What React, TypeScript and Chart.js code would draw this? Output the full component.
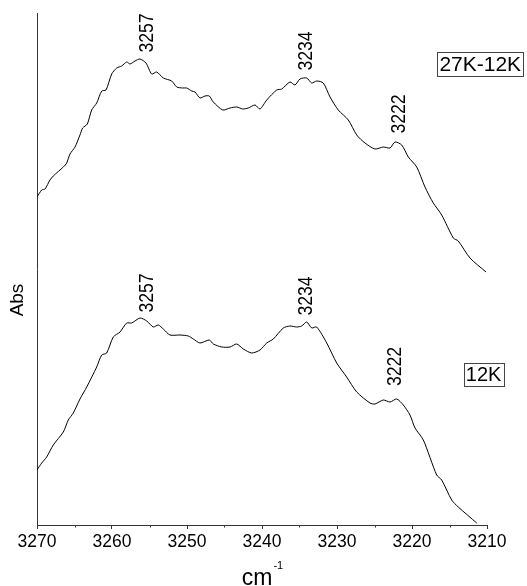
import React, { useEffect, useRef } from "react";
import { Chart, registerables } from "chart.js";

Chart.register(...registerables);

// ---- Data (wavenumber in cm^-1, absorbance in arbitrary units) ----
const topWavenumbers = [
  3270.0, 3269.37, 3268.93, 3268.27, 3267.83, 3266.49, 3266.04, 3265.6, 3264.93, 3264.27,
  3263.91, 3263.29, 3262.71, 3262.04, 3261.37, 3260.8, 3260.04, 3259.37, 3258.71, 3258.04,
  3257.6, 3256.93, 3256.27, 3255.47, 3254.71, 3254.04, 3253.16, 3252.04, 3251.37, 3250.57,
  3250.04, 3249.37, 3248.93, 3248.27, 3247.6, 3247.03, 3246.49, 3245.24, 3244.27, 3243.37,
  3242.57, 3241.83, 3240.93, 3240.27, 3239.37, 3238.04, 3237.37, 3236.27, 3235.6, 3234.93,
  3234.04, 3233.37, 3232.71, 3231.83, 3230.93, 3229.83, 3228.49, 3227.37, 3226.27, 3224.93,
  3223.83, 3222.93, 3222.27, 3221.37, 3220.49, 3219.37, 3218.27, 3217.16, 3216.04, 3214.49,
  3213.83, 3212.27, 3210.13,
];
const topAbsorbance = [
  0.328, 0.335, 0.336, 0.345, 0.349, 0.358, 0.362, 0.371, 0.378, 0.39,
  0.397, 0.401, 0.415, 0.422, 0.434, 0.435, 0.451, 0.457, 0.459, 0.463,
  0.461, 0.464, 0.466, 0.462, 0.451, 0.453, 0.447, 0.444, 0.438, 0.437,
  0.437, 0.434, 0.433, 0.427, 0.429, 0.429, 0.423, 0.415, 0.417, 0.418,
  0.416, 0.417, 0.42, 0.416, 0.425, 0.435, 0.436, 0.443, 0.44, 0.446,
  0.447, 0.442, 0.444, 0.442, 0.428, 0.415, 0.405, 0.39, 0.382, 0.376,
  0.378, 0.377, 0.383, 0.38, 0.368, 0.358, 0.338, 0.322, 0.31, 0.287,
  0.284, 0.267, 0.253,
];

const bottomWavenumbers = [
  3270.0, 3269.37, 3268.71, 3267.83, 3266.49, 3265.83, 3265.16, 3264.27, 3263.37, 3262.04,
  3261.37, 3260.71, 3259.83, 3258.93, 3258.04, 3257.37, 3256.27, 3255.37, 3254.49, 3253.83,
  3253.16, 3252.27, 3250.93, 3249.83, 3249.16, 3248.27, 3247.03, 3246.49, 3245.37, 3244.27,
  3243.37, 3242.49, 3241.37, 3240.27, 3239.37, 3238.49, 3237.16, 3236.27, 3235.37, 3234.71,
  3234.04, 3233.37, 3232.71, 3231.37, 3230.04, 3228.71, 3227.37, 3225.6, 3224.93, 3223.83,
  3222.93, 3222.04, 3221.16, 3220.27, 3219.6, 3218.49, 3216.71, 3216.04, 3214.71, 3213.83,
  3211.37,
];
const bottomAbsorbance = [
  0.055, 0.062, 0.068, 0.08, 0.093, 0.105, 0.112, 0.126, 0.138, 0.158,
  0.17, 0.172, 0.188, 0.193, 0.202, 0.202, 0.207, 0.204, 0.198, 0.2,
  0.196, 0.19, 0.19, 0.189, 0.186, 0.182, 0.185, 0.181, 0.178, 0.178,
  0.181, 0.176, 0.172, 0.175, 0.182, 0.186, 0.197, 0.199, 0.198, 0.199,
  0.203, 0.197, 0.198, 0.182, 0.162, 0.148, 0.133, 0.122, 0.121, 0.125,
  0.123, 0.126, 0.12, 0.11, 0.097, 0.085, 0.05, 0.045, 0.025, 0.018,
  0.002,
];

const xTickValues = [3270, 3260, 3250, 3240, 3230, 3220, 3210];
const xMinorTicks = [3265, 3255, 3245, 3235, 3225, 3215];

const peakLabelText = ["3257", "3234", "3222", "3257", "3234", "3222"];
const peakLabelX = [3255.5, 3234.3, 3221.9, 3255.5, 3234.3, 3222.4];
const peakLabelY = [0.492, 0.474, 0.411, 0.232, 0.229, 0.1585];

const sampleNames = ["27K-12K", "12K"];
const sampleLabelX = [3210.9, 3210.45];
const sampleLabelY = [0.461, 0.151];
const sampleFontSizes = [21, 20];

const yAxisTitle = "Abs";
const xAxisTitle = "cm";
const xAxisTitleSup = "-1";

const FONT = '"Liberation Sans", Arial, Helvetica, sans-serif';

const annotationPlugin = {
  id: "spectrumAnnotations",
  afterDraw(chart: any) {
    const ctx: CanvasRenderingContext2D = chart.ctx;
    const xs = chart.scales.x;
    const ys = chart.scales.y;
    const area = chart.chartArea;
    ctx.save();
    ctx.fillStyle = "#000";

    // minor ticks
    ctx.strokeStyle = "#333";
    ctx.lineWidth = 1;
    xMinorTicks.forEach((w) => {
      const px = Math.round(xs.getPixelForValue(w)) + 0.5;
      ctx.beginPath();
      ctx.moveTo(px, area.bottom);
      ctx.lineTo(px, area.bottom + 2.5);
      ctx.stroke();
    });

    // peak labels (rotated)
    peakLabelText.forEach((t, i) => {
      const px = xs.getPixelForValue(peakLabelX[i]);
      const py = ys.getPixelForValue(peakLabelY[i]);
      ctx.save();
      ctx.translate(px, py);
      ctx.rotate(-Math.PI / 2);
      ctx.scale(0.84, 1);
      ctx.font = `21px ${FONT}`;
      ctx.textAlign = "center";
      ctx.textBaseline = "middle";
      ctx.fillText(t, 0, 1);
      ctx.restore();
    });

    // boxed sample labels
    sampleNames.forEach((t, i) => {
      const px = xs.getPixelForValue(sampleLabelX[i]);
      const py = ys.getPixelForValue(sampleLabelY[i]);
      const fs = sampleFontSizes[i];
      ctx.font = `${fs}px ${FONT}`;
      ctx.textAlign = "center";
      ctx.textBaseline = "middle";
      const w = ctx.measureText(t).width;
      const bw = Math.round(w + 4);
      const bh = Math.round(fs + 3);
      const bx = Math.round(px - bw / 2) + 0.5;
      const by = Math.round(py - bh / 2) + 0.5;
      ctx.strokeStyle = "#444";
      ctx.lineWidth = 1;
      ctx.strokeRect(bx, by, bw, bh);
      ctx.fillText(t, px, py + 1);
    });

    // y axis title
    ctx.save();
    ctx.translate(area.left - 19, 300);
    ctx.rotate(-Math.PI / 2);
    ctx.font = `19px ${FONT}`;
    ctx.textAlign = "center";
    ctx.textBaseline = "middle";
    ctx.fillText(yAxisTitle, 0, 0);
    ctx.restore();

    // x axis title with superscript
    const cx = (area.left + area.right) / 2;
    ctx.font = `23px ${FONT}`;
    ctx.textAlign = "left";
    ctx.textBaseline = "alphabetic";
    const cmW = ctx.measureText(xAxisTitle).width;
    ctx.font = `11px ${FONT}`;
    const supW = ctx.measureText(xAxisTitleSup).width;
    const startX = cx - (cmW + supW) / 2;
    ctx.font = `23px ${FONT}`;
    ctx.fillText(xAxisTitle, startX, 585);
    ctx.font = `11px ${FONT}`;
    ctx.fillText(xAxisTitleSup, startX + cmW + 1, 569);

    ctx.restore();
  },
};

export default function App() {
  const canvasRef = useRef<HTMLCanvasElement | null>(null);

  useEffect(() => {
    document.body.style.margin = "0";
    document.body.style.overflow = "hidden";
    const canvas = canvasRef.current;
    if (!canvas) return;

    const topData = topWavenumbers.map((w, i) => ({ x: w, y: topAbsorbance[i] }));
    const bottomData = bottomWavenumbers.map((w, i) => ({ x: w, y: bottomAbsorbance[i] }));

    const chart = new Chart(canvas, {
      type: "line",
      data: {
        datasets: [
          {
            label: sampleNames[0],
            data: topData,
            borderColor: "#000",
            borderWidth: 1,
            pointRadius: 0,
            tension: 0.25,
            fill: false,
          },
          {
            label: sampleNames[1],
            data: bottomData,
            borderColor: "#000",
            borderWidth: 1,
            pointRadius: 0,
            tension: 0.25,
            fill: false,
          },
        ],
      },
      options: {
        responsive: false,
        animation: false,
        devicePixelRatio: 1,
        layout: { padding: { top: 13, right: 40, left: 0, bottom: 0 } },
        plugins: {
          legend: { display: false },
          tooltip: { enabled: false },
          title: { display: false },
        },
        scales: {
          x: {
            type: "linear",
            position: "bottom",
            min: 3210,
            max: 3270,
            reverse: true,
            afterBuildTicks: (scale: any) => {
              scale.ticks = xTickValues.map((v) => ({ value: v }));
            },
            afterFit: (scale: any) => {
              scale.height = 61;
            },
            ticks: {
              color: "#000",
              font: { family: FONT, size: 17.5 },
              padding: 3,
              maxRotation: 0,
              autoSkip: false,
              callback: (v: any) => String(v),
            },
            grid: {
              drawOnChartArea: false,
              drawTicks: true,
              tickLength: 4,
              tickColor: "#333",
            },
            border: { display: true, color: "#333", width: 1 },
          },
          y: {
            type: "linear",
            min: 0,
            max: 0.512,
            afterFit: (scale: any) => {
              scale.width = 37;
            },
            ticks: { display: false },
            grid: { display: false, drawTicks: false },
            border: { display: true, color: "#333", width: 1 },
          },
        },
      },
      plugins: [annotationPlugin],
    });

    return () => {
      chart.destroy();
    };
  }, []);

  return (
    <div style={{ width: 527, height: 586, background: "#fff" }}>
      <canvas ref={canvasRef} width={527} height={586} style={{ display: "block" }} />
    </div>
  );
}
